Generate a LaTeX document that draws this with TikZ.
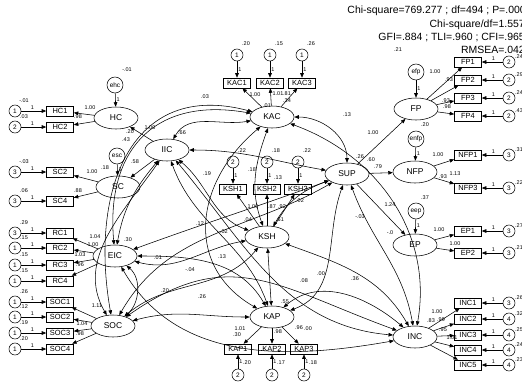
\documentclass[tikz,border=0pt]{standalone}
\usepackage{fontspec}
\setmainfont{Liberation Sans}
\usetikzlibrary{shapes.geometric,arrows.meta,positioning}

\begin{document}
\begin{tikzpicture}[
    x=1bp, y=-1bp,
    >={Triangle[length=4.5bp,width=3.6bp]},
    line width=0.55bp,
    latent/.style={draw, ellipse, minimum width=44bp, minimum height=22bp, inner sep=0pt, font=\fontsize{8.5}{9}\selectfont},
    obs/.style={draw, rectangle, minimum width=27bp, minimum height=10bp, inner sep=1pt, font=\fontsize{7.5}{8}\selectfont},
    errc/.style={draw, circle, minimum size=12bp, inner sep=0pt, font=\fontsize{6.5}{7}\selectfont},
    dist/.style={draw, circle, minimum size=16bp, inner sep=0pt, font=\fontsize{6.5}{7}\selectfont},
    load/.style={->},
    cov/.style={<->},
    num/.style={inner sep=0pt, font=\fontsize{5.5}{6}\selectfont},
    fit/.style={anchor=east, inner sep=0pt, font=\fontsize{10.5}{11}\selectfont}
]
\useasboundingbox[fill=white] (0,0) rectangle (522,384);

% fit indices
\node[fit] (chi) at (526,11) {Chi-square=769.277 ; df=494 ; P=.000};
\node[fit] (cmin) at (525,24.5) {Chi-square/df=1.557};
\node[fit] (gfi) at (525,38) {GFI=.884 ; TLI=.960 ; CFI=.965};
\node[fit] (rmsea) at (525,50) {RMSEA=.042};

% latent variables
\node[latent] (HC) at (116,118) {HC};
\node[latent] (IIC) at (167,150) {IIC};
\node[latent] (SC) at (118,187) {SC};
\node[latent] (EIC) at (115,256) {EIC};
\node[latent] (SOC) at (113,326) {SOC};
\node[latent] (KAC) at (272,117) {KAC};
\node[latent] (KSH) at (267,237) {KSH};
\node[latent] (KAP) at (272,317) {KAP};
\node[latent] (SUP) at (347,174) {SUP};
\node[latent] (FP) at (416,109) {FP};
\node[latent] (NFP) at (415,172) {NFP};
\node[latent] (EP) at (415,245) {EP};
\node[latent] (INC) at (415,337) {INC};

% disturbances
\node[dist] (ehc) at (115,85) {ehc};
\node[dist] (esc) at (117,156) {esc};
\node[dist] (efp) at (416,72) {efp};
\node[dist] (enfp) at (416,139) {enfp};
\node[dist] (eep) at (416,211) {eep};
\draw[load] (ehc) -- (HC) node[num, pos=0.45, right=1pt] {1};
\draw[load] (esc) -- (SC) node[num, pos=0.45, right=1pt] {1};
\draw[load] (efp) -- (FP) node[num, pos=0.45, right=1pt] {1};
\draw[load] (enfp) -- (NFP) node[num, pos=0.45, right=1pt] {1};
\draw[load] (eep) -- (EP) node[num, pos=0.45, right=1pt] {1};

% second order paths
\draw[load] (IIC) -- (HC);
\draw[load] (IIC) -- (SC);
\draw[load] (SUP) -- (FP);
\draw[load] (SUP) -- (NFP);
\draw[load] (SUP) -- (EP);

% left indicators
\foreach \n/\f/\y/\e/\v in {HC1/HC/111/1/-.01, HC2/HC/127/2/.03, SC2/SC/172/3/-.03, SC4/SC/201/3/.06,
    RC1/EIC/233/3/.29, RC2/EIC/248/1/.15, RC3/EIC/265/1/.15, RC4/EIC/281/1/.15,
    SOC1/SOC/302/1/.26, SOC2/SOC/317/1/.12, SOC3/SOC/333/1/.19, SOC4/SOC/349/1/.20}{
  \node[obs] (\n) at (60,\y) {\n};
  \node[errc] (e\n) at (15,\y) {\e};
  \draw[load] (e\n) -- (\n) node[num, pos=0.45, above=1pt] {1};
  \draw[load] (\f) -- (\n);
  \node[num] at (24,\y-10) {\v};
}

% top and bottom indicators
\foreach \n/\f/\x/\v in {KAC1/KAC/237/.20, KAC2/KAC/270/.15, KAC3/KAC/302/.26}{
  \node[obs] (\n) at (\x,83) {\n};
  \node[errc] (e\n) at (\x,55) {1};
  \draw[load] (e\n) -- (\n) node[num, pos=0.5, right=1pt] {1};
  \draw[load] (\f) -- (\n);
  \node[num] at (\x+9,44) {\v};
}
\foreach \n/\f/\x/\v in {KSH1/KSH/233/.22, KSH2/KSH/267/.18, KSH3/KSH/298/.22}{
  \node[obs] (\n) at (\x,189) {\n};
  \node[errc] (e\n) at (\x,162) {2};
  \draw[load] (e\n) -- (\n) node[num, pos=0.5, right=1pt] {1};
  \draw[load] (\f) -- (\n);
  \node[num] at (\x+9,151) {\v};
}
\foreach \n/\f/\x/\v in {KAP1/KAP/238/.20, KAP2/KAP/272/.17, KAP3/KAP/304/.18}{
  \node[obs] (\n) at (\x,349) {\n};
  \node[errc] (e\n) at (\x,375) {2};
  \draw[load] (e\n) -- (\n) node[num, pos=0.5, right=1pt] {1};
  \draw[load] (\f) -- (\n);
  \node[num] at (\x+9,363) {\v};
}

% right indicators
\foreach \n/\f/\y/\e/\v in {FP1/FP/62/2/.24, FP2/FP/80/2/.29, FP3/FP/98/2/.24, FP4/FP/116/2/.43,
    NFP1/NFP/155/3/.31, NFP3/NFP/188/3/.22, EP1/EP/231/3/.27, EP2/EP/253/3/.21,
    INC1/INC/303/3/.26, INC2/INC/319/4/.32, INC3/INC/335/4/.25, INC4/INC/350/4/.24, INC5/INC/365/4/.23}{
  \node[obs] (\n) at (468,\y) {\n};
  \node[errc] (e\n) at (509,\y) {\e};
  \draw[load] (e\n) -- (\n) node[num, pos=0.45, above=1pt] {1};
  \draw[load] (\f) -- (\n);
  \node[num] at (519,\y-5.5) {\v};
}

% covariances
\draw[cov] (IIC) to[out=60,in=190] (KAC);
\draw[cov] (EIC) to[out=95,in=170,looseness=1.3] (KAC);
\draw[cov] (SOC) to[out=100,in=165,looseness=1.3] (KAC);
\draw[cov] (KAC) to[out=0,in=90] (SUP);
\draw[cov] (IIC) to[out=0,in=170] (SUP);
\draw[cov] (IIC) to[out=-40,in=160] (KSH);
\draw[cov] (KSH) to[out=60,in=200] (SUP);
\draw[cov] (IIC) to[out=-70,in=110] (KAP);
\draw[cov] (EIC) to[out=20,in=200] (SUP);
\draw[cov] (EIC) to[out=0,in=120] (KAP);
\draw[cov] (EIC) to[out=-15,in=190] (KSH);
\draw[cov] (SOC) to[out=40,in=230] (KSH);
\draw[cov] (EIC) to[out=-40,in=40] (SOC);
\draw[cov] (SOC) to[out=15,in=180] (KAP);
\draw[cov] (IIC) to[out=230,in=80] (EIC);
\draw[cov] (KAP) to[out=40,in=140] (INC);
\draw[cov] (KSH) to[out=-20,in=120] (INC);
\draw[cov] (SOC) to[out=35,in=160,looseness=1.2] (INC);
\draw[cov] (SUP) to[out=-110,in=20] (KAP);
\draw[cov] (SUP) to[out=-70,in=100] (INC);
\draw[cov] (KAC) to[out=-20,in=80] (INC);
\draw[cov] (IIC) to[out=235,in=120] (SOC);
\draw[cov] (IIC) to[out=-50,in=175] (INC);
\draw[cov] (EIC) to[out=-60,in=190] (INC);
\draw[cov] (SOC) to[out=60,in=210] (SUP);
\draw[cov] (KAC) to[out=-110,in=110] (KSH);
\draw[cov] (KAC) to[out=-140,in=150,looseness=1.2] (KAP);
\draw[cov] (KSH) -- (KAP);

% estimates
\node[num] at (127,70) {-.01};
\node[num] at (90,108) {1.00};
\node[num] at (78,117) {.98};
\node[num] at (150,128) {1.00};
\node[num] at (130,132) {.20};
\node[num] at (126,140) {.43};
\node[num] at (135,162) {.58};
\node[num] at (105,168) {.18};
\node[num] at (92,172) {1.00};
\node[num] at (78,191) {.88};
\node[num] at (95,237) {1.04};
\node[num] at (93,245) {1.00};
\node[num] at (80,255) {1.03};
\node[num] at (80,265) {.96};
\node[num] at (97,306) {1.11};
\node[num] at (82,324) {1.04};
\node[num] at (80,334) {.98};
\node[num] at (255,95) {1.00};
\node[num] at (278,94) {1.01};
\node[num] at (287,94) {.81};
\node[num] at (287,101) {.34};
\node[num] at (267,106) {.01};
\node[num] at (253,207) {1.00};
\node[num] at (272,207) {.87};
\node[num] at (282,207) {.92};
\node[num] at (300,201) {.02};
\node[num] at (248,220) {.04};
\node[num] at (280,220) {.51};
\node[num] at (240,329) {1.01};
\node[num] at (237,335) {.30};
\node[num] at (278,332) {.98};
\node[num] at (299,328) {.96};
\node[num] at (308,329) {.00};
\node[num] at (398,50) {.21};
\node[num] at (435,72) {1.00};
\node[num] at (449,80) {.93};
\node[num] at (446,101) {.93};
\node[num] at (447,107) {.98};
\node[num] at (425,125) {.20};
\node[num] at (438,155) {1.00};
\node[num] at (443,177) {.93};
\node[num] at (455,174) {1.13};
\node[num] at (425,198) {.37};
\node[num] at (439,230) {1.00};
\node[num] at (455,244) {1.00};
\node[num] at (437,312) {1.00};
\node[num] at (431,321) {.83};
\node[num] at (441,320) {.99};
\node[num] at (443,330) {.95};
\node[num] at (452,338) {1.01};
\node[num] at (373,133) {1.00};
\node[num] at (360,157) {.26};
\node[num] at (371,160) {.60};
\node[num] at (378,167) {.79};
\node[num] at (390,205) {1.24};
\node[num] at (390,233) {-.0};
\node[num] at (205,97) {.03};
\node[num] at (182,133) {.66};
\node[num] at (347,115) {.13};
\node[num] at (207,174) {.19};
\node[num] at (252,170) {.18};
\node[num] at (278,178) {.13};
\node[num] at (200,224) {.12};
\node[num] at (223,232) {-.02};
\node[num] at (222,257) {.13};
\node[num] at (158,258) {.01};
\node[num] at (190,270) {-.04};
\node[num] at (165,291) {.20};
\node[num] at (202,297) {.26};
\node[num] at (128,240) {.30};
\node[num] at (304,281) {.08};
\node[num] at (321,274) {.00};
\node[num] at (355,279) {.36};
\node[num] at (285,302) {.55};
\node[num] at (360,217) {-.03};
\end{tikzpicture}
\end{document}
